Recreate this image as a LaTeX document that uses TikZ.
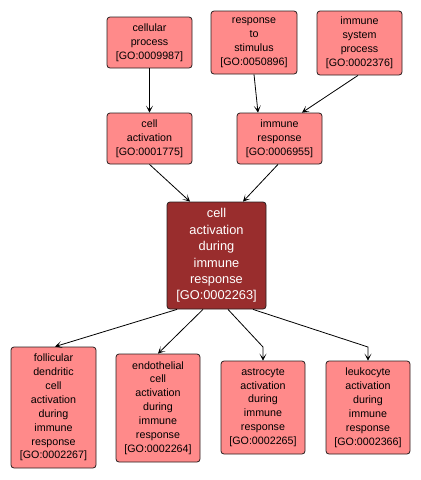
\documentclass[tikz,border=0pt]{standalone}
\usepackage{fontspec}
\setmainfont{Liberation Sans}
\usetikzlibrary{arrows.meta}
\definecolor{lightbox}{RGB}{255,138,138}
\definecolor{darkbox}{RGB}{153,45,45}
\definecolor{boxline}{RGB}{40,30,30}
\tikzset{
  gobox/.style={draw=boxline, line width=0.8pt, fill=lightbox, rounded corners=3pt,
    inner sep=0pt, align=center, font=\fontsize{10.7}{13.9}\selectfont, text=black},
  mainbox/.style={gobox, fill=darkbox, text=white, font=\fontsize{12.8}{16.4}\selectfont},
  link/.style={draw=black, line width=0.8pt, -{Stealth[length=7pt,width=7pt,inset=4pt]}}
}
\begin{document}
\begin{tikzpicture}[x=1pt,y=-1pt]
\useasboundingbox (0,0) rectangle (421,480);
\node[gobox, minimum width=85pt, minimum height=51pt] (cp) at (149.5,42.5) {cellular\\process\\{[GO:0009987]}};
\node[gobox, minimum width=86pt, minimum height=63pt] (rs) at (254,42.5) {response\\to\\stimulus\\{[GO:0050896]}};
\node[gobox, minimum width=85pt, minimum height=64pt] (isp) at (359.5,43) {immune\\system\\process\\{[GO:0002376]}};
\node[gobox, minimum width=85pt, minimum height=51pt] (ca) at (149.5,138.5) {cell\\activation\\{[GO:0001775]}};
\node[gobox, minimum width=85pt, minimum height=51pt] (ir) at (279.5,138.5) {immune\\response\\{[GO:0006955]}};
\node[mainbox, minimum width=99pt, minimum height=107pt] (main) at (216.5,255.5) {cell\\activation\\during\\immune\\response\\{[GO:0002263]}};
\node[gobox, minimum width=85pt, minimum height=121pt] (fol) at (53.5,407.5) {follicular\\dendritic\\cell\\activation\\during\\immune\\response\\{[GO:0002267]}};
\node[gobox, minimum width=84pt, minimum height=108pt] (endo) at (158,408) {endothelial\\cell\\activation\\during\\immune\\response\\{[GO:0002264]}};
\node[gobox, minimum width=84pt, minimum height=93pt] (astro) at (263,407.5) {astrocyte\\activation\\during\\immune\\response\\{[GO:0002265]}};
\node[gobox, minimum width=84pt, minimum height=93pt] (leuko) at (368,407.5) {leukocyte\\activation\\during\\immune\\response\\{[GO:0002366]}};
\coordinate (bendA) at (263,347);
\coordinate (bendL) at (368,347);
\draw[link] (cp.south) -- (ca.north);
\draw[link] ([xshift=0pt]rs.south) -- ([xshift=-21.5pt]ir.north);
\draw[link] ([xshift=-1.5pt]isp.south) -- ([xshift=22.5pt]ir.north);
\draw[link] (ca.south) -- ([xshift=-26.5pt]main.north);
\draw[link] ([xshift=-1.5pt]ir.south) -- ([xshift=26.5pt]main.north);
\draw[link] ([xshift=-39.5pt]main.south) -- ([xshift=1.5pt]fol.north);
\draw[link] ([xshift=-13.5pt]main.south) -- (endo.north);
\draw[link] ([xshift=11.5pt]main.south) -- (bendA) -- (astro.north);
\draw[link] ([xshift=36.5pt]main.south) -- (bendL) -- (leuko.north);
\end{tikzpicture}
\end{document}
